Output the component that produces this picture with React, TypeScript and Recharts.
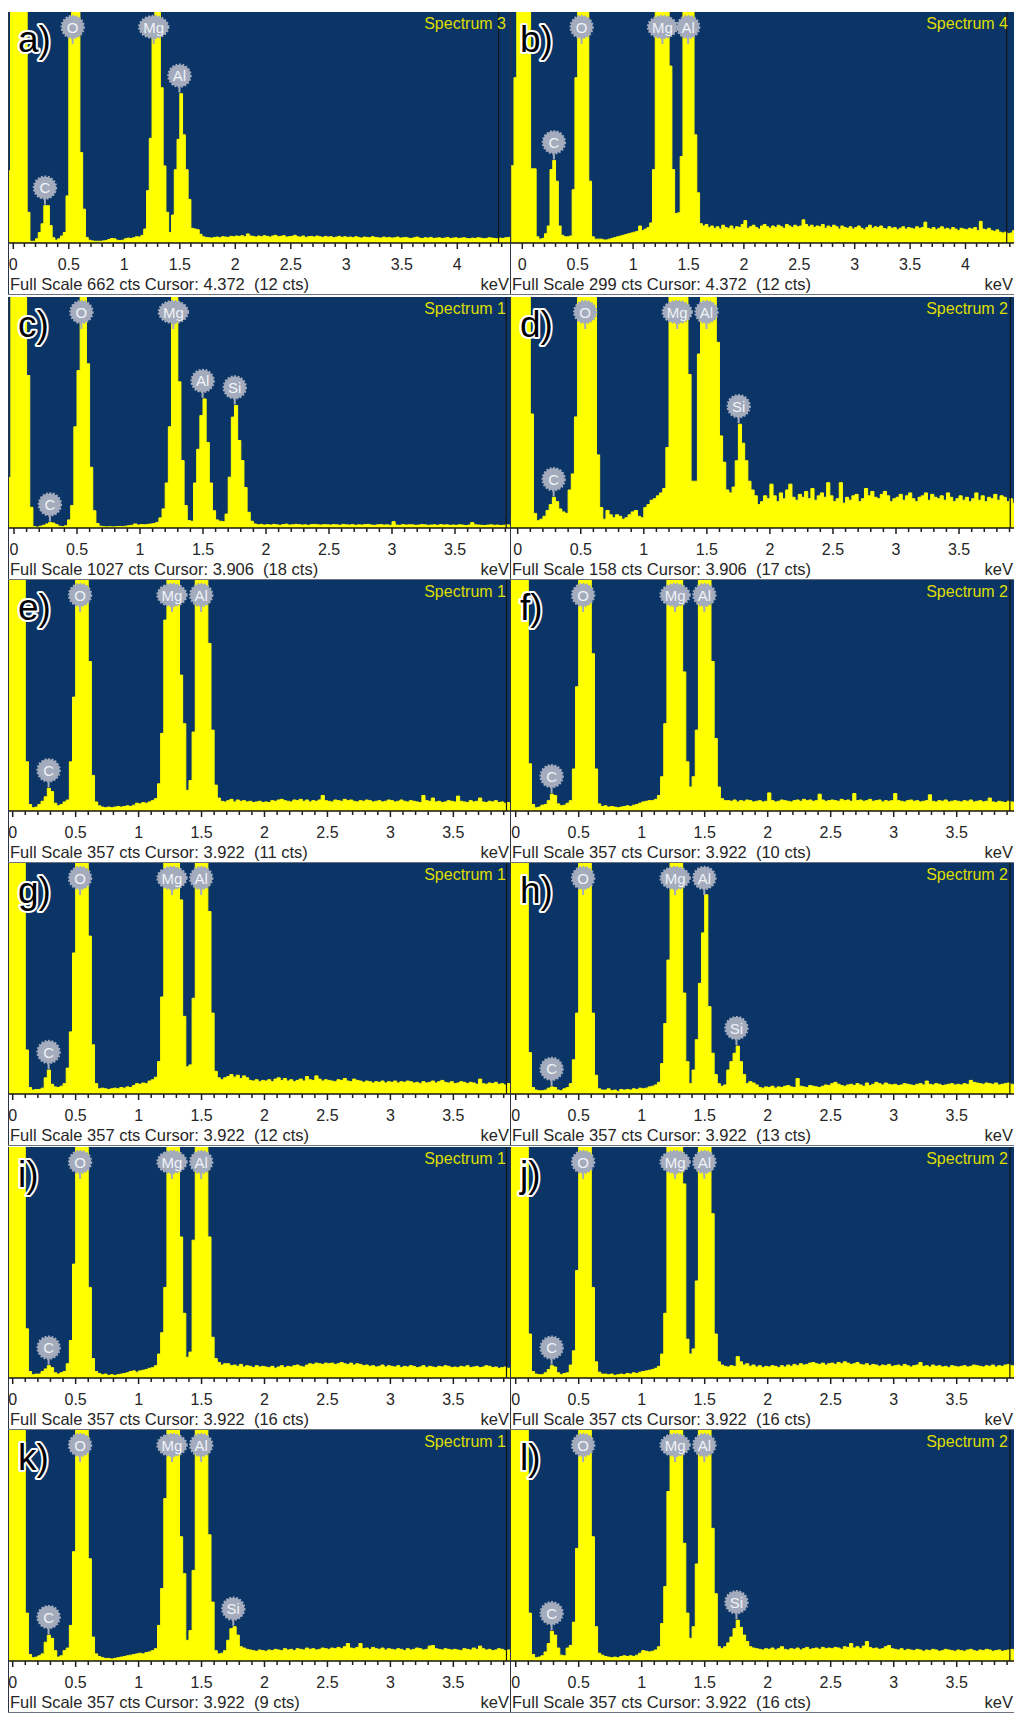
import React from "react";
import { AreaChart, Area, XAxis, YAxis, ReferenceLine, ReferenceDot } from "recharts";

const FONT = "'Liberation Sans', Arial, sans-serif";
const PLOT_BG = "#0a3566";
const TRACE = "#ffff00";
const BADGE = "#a3abbd";

const CHANNEL_KEV = 0.025;
const FIRST_CHANNEL_KEV = -0.1;

// counts per 25 eV channel starting at -0.1 keV, one 0.5 keV stretch per line
const countsA = [
  200, 200, 207, 2000, 2000, 2000, 2000, 2000, 2000, 88, 5, 5, 12, 30, 55, 107, 107, 50, 15, 8,
  12, 20, 30, 135, 600, 2000, 2000, 2000, 259, 97, 16, 8, 6, 5, 5, 5, 6, 7, 10, 13,
  12, 8, 7, 8, 12, 14, 13, 15, 18, 17, 22, 40, 150, 300, 600, 2000, 2000, 445, 221, 88,
  30, 80, 210, 297, 428, 310, 210, 125, 42, 40, 38, 25, 18, 16, 15, 14, 16, 17, 15, 18,
  17, 16, 19, 18, 20, 19, 21, 18, 26, 20, 19, 17, 20, 18, 21, 19, 17, 20, 22, 18,
  19, 21, 17, 18, 19, 22, 18, 17, 20, 16, 18, 19, 17, 20, 18, 16, 19, 17, 18, 15,
  17, 19, 16, 18, 16, 17, 15, 18, 16, 14, 17, 16, 15, 18, 16, 15, 14, 17, 15, 16,
  14, 15, 17, 14, 15, 16, 14, 13, 15, 17, 14, 13, 15, 14, 16, 13, 14, 15, 13, 14,
  16, 13, 14, 15, 13, 14, 15, 13, 12, 14, 13, 15, 14, 12, 13, 15, 14, 13, 12, 14,
  13, 15, 16, 17,
];
const countsB = [
  100, 214, 600, 600, 600, 600, 600, 96, 96, 8, 5, 6, 12, 22, 95, 107, 80, 22, 10, 8,
  8, 9, 69, 214, 600, 600, 600, 600, 80, 8, 5, 5, 5, 4, 4, 5, 6, 7, 8, 9,
  10, 11, 12, 13, 14, 15, 22, 16, 18, 20, 26, 95, 600, 600, 600, 600, 600, 229, 95, 38,
  39, 112, 600, 600, 600, 600, 140, 65, 25, 22, 24, 20, 22, 19, 21, 18, 23, 20, 19, 22,
  18, 21, 20, 24, 29, 19, 21, 23, 20, 18, 22, 24, 21, 19, 22, 20, 23, 21, 19, 24,
  22, 20, 23, 21, 22, 30, 24, 21, 23, 20, 22, 21, 24, 19, 22, 20, 23, 21, 18, 22,
  20, 19, 21, 18, 20, 22, 19, 17, 20, 23, 19, 21, 20, 22, 19, 18, 21, 19, 20, 17,
  19, 21, 18, 20, 19, 18, 21, 19, 20, 27, 19, 18, 20, 17, 19, 21, 18, 19, 17, 20,
  18, 16, 19, 18, 17, 19, 18, 20, 16, 28, 18, 17, 19, 16, 15, 17, 14, 13, 14, 12,
  13, 16, 18, 18,
];
const countsC = [
  225, 225, 225, 2000, 2000, 2000, 2000, 2000, 678, 92, 6, 4, 8, 12, 18, 25, 22, 15, 8, 6,
  10, 36, 100, 450, 700, 2000, 2000, 730, 270, 77, 20, 8, 6, 5, 6, 5, 6, 7, 6, 8,
  10, 12, 18, 13, 15, 14, 16, 18, 20, 25, 45, 85, 200, 450, 2000, 2000, 650, 300, 100, 33,
  30, 200, 350, 500, 574, 380, 200, 77, 36, 30, 28, 62, 226, 493, 545, 389, 300, 180, 70, 30,
  18, 14, 16, 13, 15, 13, 16, 14, 12, 15, 17, 13, 14, 16, 15, 13, 14, 12, 15, 16,
  14, 13, 15, 14, 13, 15, 14, 12, 16, 14, 13, 15, 12, 14, 13, 15, 16, 13, 12, 14,
  15, 13, 14, 12, 28, 13, 12, 15, 13, 14, 14, 12, 13, 15, 14, 12, 13, 14, 12, 15,
  13, 14, 12, 13, 12, 14, 13, 11, 13, 24, 14, 13, 12, 11, 13, 14, 12, 13, 11, 12,
  14, 13, 12, 13,
];
const countsD = [
  10, 10, 400, 400, 400, 400, 400, 400, 78, 10, 5, 6, 8, 12, 16, 21, 18, 13, 11, 10,
  26, 37, 76, 400, 400, 400, 400, 400, 400, 50, 14, 6, 12, 9, 7, 9, 8, 6, 7, 9,
  11, 12, 8, 7, 14, 16, 19, 20, 22, 24, 27, 55, 400, 400, 400, 400, 400, 400, 105, 32,
  32, 119, 400, 400, 400, 400, 400, 127, 63, 45, 26, 24, 28, 46, 71, 58, 46, 32, 26, 22,
  16, 18, 22, 20, 30, 22, 18, 24, 20, 26, 30, 21, 19, 23, 21, 25, 20, 27, 19, 22,
  24, 21, 31, 22, 18, 20, 31, 17, 21, 19, 22, 23, 18, 20, 27, 22, 25, 21, 20, 23,
  25, 22, 18, 20, 21, 23, 19, 22, 24, 20, 18, 21, 22, 24, 19, 23, 21, 20, 22, 19,
  24, 21, 18, 20, 22, 19, 21, 18, 20, 24, 19, 22, 18, 21, 20, 23, 19, 22, 21, 18,
  20, 17, 19, 21,
];
const countsE = [
  2000, 2000, 2000, 2000, 2000, 2000, 2000, 2000, 76, 10, 5, 6, 10, 15, 22, 35, 30, 12, 8, 10,
  14, 17, 76, 176, 2000, 2000, 2000, 2000, 231, 55, 14, 8, 6, 5, 6, 5, 6, 7, 6, 7,
  8, 7, 9, 12, 11, 13, 12, 14, 16, 19, 42, 120, 295, 2000, 2000, 2000, 2000, 210, 135, 32,
  47, 122, 2000, 2000, 2000, 2000, 259, 125, 40, 20, 15, 14, 16, 18, 14, 17, 15, 16, 14, 15,
  13, 14, 15, 13, 14, 13, 16, 15, 17, 18, 16, 15, 14, 17, 16, 18, 15, 17, 14, 16,
  15, 17, 24, 16, 15, 14, 17, 16, 15, 18, 16, 17, 15, 14, 16, 15, 17, 16, 14, 15,
  16, 14, 15, 17, 16, 14, 15, 17, 15, 14, 16, 15, 14, 13, 24, 16, 15, 20, 14, 15,
  13, 14, 16, 15, 14, 23, 15, 14, 13, 16, 14, 15, 20, 14, 13, 15, 14, 16, 13, 14,
  12, 13, 11, 12,
];
const countsF = [
  2000, 2000, 2000, 2000, 2000, 2000, 2000, 2000, 73, 10, 5, 6, 9, 10, 16, 26, 24, 11, 8, 9,
  12, 16, 65, 192, 2000, 2000, 2000, 2000, 243, 65, 11, 7, 8, 6, 7, 6, 5, 6, 7, 8,
  7, 9, 10, 12, 14, 15, 16, 16, 18, 24, 53, 135, 2000, 2000, 2000, 2000, 2000, 215, 76, 37,
  53, 125, 2000, 2000, 2000, 2000, 231, 112, 37, 19, 16, 16, 15, 17, 14, 16, 15, 17, 16, 14,
  15, 16, 14, 15, 28, 16, 14, 15, 17, 16, 15, 14, 16, 17, 15, 18, 16, 17, 15, 16,
  26, 17, 15, 16, 17, 16, 15, 18, 16, 17, 15, 27, 16, 17, 15, 16, 18, 15, 16, 17,
  14, 16, 15, 16, 27, 16, 15, 14, 16, 17, 15, 16, 14, 15, 16, 25, 15, 14, 16, 15,
  17, 14, 15, 16, 15, 14, 16, 15, 17, 14, 15, 16, 14, 15, 20, 14, 13, 15, 14, 13,
  15, 14, 13, 16,
];
const countsG = [
  2000, 2000, 2000, 2000, 2000, 2000, 2000, 2000, 68, 10, 6, 7, 7, 9, 25, 37, 15, 11, 10, 12,
  16, 40, 96, 218, 2000, 2000, 2000, 2000, 244, 76, 16, 8, 9, 8, 7, 8, 9, 8, 10, 9,
  11, 10, 13, 16, 15, 17, 16, 20, 22, 26, 50, 150, 2000, 2000, 2000, 2000, 2000, 300, 120, 42,
  45, 148, 2000, 2000, 2000, 2000, 282, 125, 35, 25, 22, 25, 27, 30, 26, 29, 24, 28, 25, 21,
  20, 22, 19, 21, 20, 22, 19, 23, 25, 21, 24, 20, 22, 19, 21, 23, 20, 27, 22, 21,
  28, 23, 20, 22, 21, 20, 19, 22, 21, 24, 20, 19, 23, 21, 20, 18, 20, 19, 17, 19,
  18, 20, 17, 19, 18, 20, 17, 19, 18, 20, 19, 17, 18, 16, 19, 17, 18, 20, 17, 19,
  21, 18, 17, 19, 16, 17, 19, 18, 16, 18, 17, 15, 23, 16, 15, 17, 16, 18, 15, 16,
  14, 16, 15, 17,
];
const countsH = [
  2000, 2000, 2000, 2000, 2000, 2000, 2000, 2000, 64, 10, 6, 5, 5, 6, 9, 11, 10, 6, 5, 8,
  10, 16, 53, 125, 2000, 2000, 2000, 2000, 125, 29, 8, 6, 6, 8, 5, 6, 4, 7, 6, 7,
  6, 8, 7, 9, 8, 9, 11, 12, 14, 18, 47, 109, 207, 2000, 2000, 2000, 2000, 156, 50, 16,
  37, 84, 171, 249, 308, 135, 63, 30, 16, 12, 14, 37, 50, 63, 74, 50, 30, 16, 19, 17,
  14, 10, 9, 11, 10, 12, 9, 11, 10, 12, 13, 11, 10, 24, 12, 11, 10, 13, 12, 11,
  10, 12, 14, 13, 16, 18, 15, 13, 12, 14, 15, 13, 16, 14, 12, 17, 13, 15, 18, 16,
  14, 17, 15, 14, 15, 13, 14, 16, 15, 14, 13, 15, 16, 14, 20, 15, 14, 16, 15, 13,
  14, 15, 16, 14, 15, 14, 16, 15, 21, 18, 17, 16, 15, 17, 16, 15, 17, 14, 15, 16,
  17, 15, 14, 16,
];
const countsI = [
  2000, 2000, 2000, 2000, 2000, 2000, 2000, 2000, 76, 10, 5, 6, 6, 10, 14, 19, 16, 8, 6, 8,
  10, 22, 58, 176, 2000, 2000, 2000, 2000, 140, 30, 10, 7, 5, 6, 4, 5, 4, 5, 6, 7,
  8, 10, 11, 9, 11, 12, 13, 15, 16, 19, 37, 70, 140, 2000, 2000, 2000, 2000, 218, 100, 32,
  40, 213, 2000, 2000, 2000, 2000, 218, 63, 30, 24, 20, 22, 22, 19, 20, 18, 21, 17, 19, 18,
  16, 19, 17, 18, 17, 16, 18, 15, 17, 19, 16, 18, 17, 19, 20, 18, 17, 20, 22, 21,
  23, 22, 21, 23, 22, 23, 21, 22, 24, 22, 21, 23, 20, 22, 21, 19, 20, 18, 19, 17,
  18, 20, 17, 19, 18, 17, 19, 16, 18, 17, 19, 18, 16, 17, 19, 16, 18, 17, 16, 18,
  17, 19, 18, 16, 17, 16, 18, 17, 19, 16, 17, 18, 16, 17, 19, 18, 16, 17, 15, 16,
  17, 15, 16, 14,
];
const countsJ = [
  2000, 2000, 2000, 2000, 2000, 2000, 2000, 2000, 68, 10, 6, 5, 5, 8, 13, 19, 17, 8, 5, 7,
  8, 20, 42, 166, 2000, 2000, 2000, 2000, 140, 25, 9, 6, 6, 5, 6, 4, 5, 6, 5, 7,
  6, 8, 7, 9, 10, 11, 12, 13, 15, 18, 37, 100, 2000, 2000, 2000, 2000, 2000, 300, 60, 37,
  45, 150, 2000, 2000, 2000, 2000, 254, 68, 25, 20, 18, 17, 19, 18, 33, 25, 20, 22, 18, 20,
  17, 19, 16, 18, 17, 19, 18, 16, 19, 17, 20, 18, 21, 19, 22, 20, 21, 23, 24, 22,
  21, 23, 20, 22, 23, 21, 24, 22, 25, 23, 21, 22, 24, 21, 20, 22, 19, 21, 20, 18,
  20, 19, 21, 18, 19, 20, 18, 21, 19, 17, 19, 20, 24, 18, 19, 17, 20, 18, 19, 17,
  18, 16, 19, 18, 17, 18, 19, 17, 18, 20, 19, 18, 17, 19, 18, 20, 17, 19, 18, 20,
  21, 19, 18, 20,
];
const countsK = [
  2000, 2000, 2000, 2000, 2000, 2000, 2000, 2000, 74, 10, 5, 6, 8, 11, 29, 40, 35, 16, 6, 8,
  16, 20, 55, 169, 2000, 2000, 2000, 2000, 158, 37, 11, 7, 5, 4, 4, 3, 4, 5, 6, 7,
  8, 9, 10, 11, 12, 11, 13, 14, 16, 19, 55, 112, 251, 2000, 2000, 2000, 2000, 192, 135, 32,
  47, 140, 2000, 2000, 2000, 2000, 195, 91, 16, 11, 12, 16, 32, 50, 53, 40, 22, 20, 18, 17,
  16, 15, 17, 16, 15, 17, 16, 18, 17, 16, 19, 17, 18, 16, 19, 18, 17, 20, 18, 19,
  17, 18, 20, 19, 18, 20, 19, 21, 19, 22, 27, 20, 19, 21, 27, 19, 20, 18, 21, 19,
  18, 20, 17, 19, 18, 17, 19, 18, 16, 19, 17, 18, 20, 19, 17, 18, 23, 24, 19, 18,
  17, 19, 18, 17, 18, 17, 16, 19, 18, 17, 20, 18, 23, 19, 17, 18, 16, 17, 19, 18,
  16, 17, 18, 20,
];
const countsL = [
  2000, 2000, 2000, 2000, 2000, 2000, 2000, 2000, 74, 10, 5, 6, 8, 14, 27, 46, 40, 20, 9, 8,
  20, 24, 60, 174, 2000, 2000, 2000, 2000, 192, 53, 12, 9, 7, 6, 5, 6, 5, 7, 8, 7,
  8, 7, 9, 12, 16, 15, 14, 15, 17, 22, 58, 115, 262, 2000, 2000, 2000, 2000, 182, 74, 35,
  53, 150, 2000, 2000, 2000, 2000, 205, 104, 22, 19, 22, 28, 37, 50, 63, 52, 40, 30, 22, 20,
  19, 18, 17, 19, 18, 20, 17, 19, 22, 18, 17, 19, 18, 20, 17, 19, 21, 18, 19, 20,
  18, 21, 19, 20, 19, 21, 20, 18, 22, 21, 27, 20, 22, 19, 23, 30, 21, 19, 20, 18,
  19, 22, 24, 19, 18, 17, 19, 16, 18, 17, 16, 18, 17, 15, 17, 16, 18, 17, 15, 16,
  18, 17, 16, 15, 17, 16, 15, 17, 18, 16, 15, 17, 16, 18, 17, 15, 16, 17, 15, 16,
  17, 18, 16, 17,
];

const spectra = [countsA, countsB, countsC, countsD, countsE, countsF, countsG, countsH, countsI, countsJ, countsK, countsL];
const panelLetters = ["a)", "b)", "c)", "d)", "e)", "f)", "g)", "h)", "i)", "j)", "k)", "l)"];
const spectrumNames = [
  "Spectrum 3", "Spectrum 4", "Spectrum 1", "Spectrum 2", "Spectrum 1", "Spectrum 2",
  "Spectrum 1", "Spectrum 2", "Spectrum 1", "Spectrum 2", "Spectrum 1", "Spectrum 2",
];
const fullScaleCts = [662, 299, 1027, 158, 357, 357, 357, 357, 357, 357, 357, 357];
const cursorKev = [4.372, 4.372, 3.906, 3.906, 3.922, 3.922, 3.922, 3.922, 3.922, 3.922, 3.922, 3.922];
const cursorCts = [12, 12, 18, 17, 11, 10, 12, 13, 16, 16, 9, 16];
const markedElements = [
  ["C", "O", "Mg", "Al"], ["C", "O", "Mg", "Al"],
  ["C", "O", "Mg", "Al", "Si"], ["C", "O", "Mg", "Al", "Si"],
  ["C", "O", "Mg", "Al"], ["C", "O", "Mg", "Al"],
  ["C", "O", "Mg", "Al"], ["C", "O", "Mg", "Al", "Si"],
  ["C", "O", "Mg", "Al"], ["C", "O", "Mg", "Al"],
  ["C", "O", "Mg", "Al", "Si"], ["C", "O", "Mg", "Al", "Si"],
];
const lineKev: Record<string, number> = { C: 0.285, O: 0.535, Mg: 1.265, Al: 1.497, Si: 1.752 };

// panel geometry
const colLeft = [8, 510];
const colWidth = [502, 504];
const rowTop = [12, 297, 580, 863, 1147, 1430];
const PANEL_H = 283;
const PLOT_H = 231;
const AXIS_H = 30;
// where 0 keV sits inside each panel and the keV scale of each panel
const zeroOffsetPx = [5.3, 12.3, 6, 7.7, 4.7, 5.7, 4.7, 5.7, 4.7, 5.7, 4.7, 5.7];
const pxPerKev = [111, 110.8, 126, 126.1, 125.9, 126, 125.9, 126, 125.9, 126, 125.9, 126];

function peakNear(counts: number[], kev: number) {
  let best = 0;
  counts.forEach((c, i) => {
    const lo = FIRST_CHANNEL_KEV + i * CHANNEL_KEV;
    if (lo + CHANNEL_KEV > kev - 0.03 && lo < kev + 0.03) best = Math.max(best, c);
  });
  return best;
}

function KevTick(props: any) {
  const { x, y, payload } = props;
  const v: number = payload.value;
  const major = Math.abs(v * 2 - Math.round(v * 2)) < 1e-6;
  return (
    <g>
      <line x1={x} x2={x} y1={y} y2={y + (major ? 6 : 4)} stroke="#1e1e1e" strokeWidth={1.5} />
      {major ? (
        <text x={x} y={y + 27} textAnchor="middle" fontSize={16} fill="#262626" fontFamily={FONT}>
          {String(v)}
        </text>
      ) : null}
    </g>
  );
}

function ElementBadge({ cx, cy, label }: { cx: number; cy: number; label: string }) {
  const by = Math.max(15, cy - 18);
  const rx = label === "Mg" ? 14.5 : 11;
  return (
    <g>
      <line x1={cx} x2={cx} y1={by + 10} y2={by + 17} stroke={BADGE} strokeWidth={2} />
      <ellipse cx={cx} cy={by} rx={rx} ry={11} fill={BADGE} stroke={BADGE} strokeWidth={2.4} strokeDasharray="1.8 1.6" />
      <text x={cx} y={by + 5.5} textAnchor="middle" fontSize={15} fill="#f1f3f7" fontFamily={FONT}>
        {label}
      </text>
    </g>
  );
}

function SpectrumPanel({ index }: { index: number }) {
  const col = index % 2;
  const row = Math.floor(index / 2);
  const width = colWidth[col];
  const counts = spectra[index];
  const data = counts.map((c, i) => ({ e: +(FIRST_CHANNEL_KEV + i * CHANNEL_KEV).toFixed(3), c }));
  data.push({ e: +(FIRST_CHANNEL_KEV + counts.length * CHANNEL_KEV).toFixed(3), c: counts[counts.length - 1] });

  const xMin = -zeroOffsetPx[index] / pxPerKev[index];
  const xMax = xMin + width / pxPerKev[index];
  const ticks: number[] = [];
  for (let t = 0; t <= Math.floor(xMax * 10 + 1e-6); t++) ticks.push(t / 10);

  const footer = `Full Scale ${fullScaleCts[index]} cts Cursor: ${cursorKev[index].toFixed(3)}  (${cursorCts[index]} cts)`;

  return (
    <div
      style={{
        position: "absolute",
        left: colLeft[col],
        top: rowTop[row],
        width,
        height: PANEL_H,
        background: "#fff",
        overflow: "hidden",
      }}
    >
      <div style={{ position: "absolute", left: 0, top: 0, width, height: PLOT_H, background: PLOT_BG }} />
      <div style={{ position: "absolute", left: 0, top: 0 }}>
        <AreaChart width={width} height={PLOT_H + AXIS_H} data={data} margin={{ top: 0, right: 0, bottom: 0, left: 0 }}>
          <XAxis
            type="number"
            dataKey="e"
            domain={[xMin, xMax]}
            allowDataOverflow
            ticks={ticks}
            interval={0}
            tickSize={0}
            tickMargin={0}
            tickLine={false}
            tick={(p: any) => <KevTick {...p} />}
            axisLine={{ stroke: "#151515", strokeWidth: 1.5 }}
            height={AXIS_H}
          />
          <YAxis hide domain={[0, fullScaleCts[index]]} allowDataOverflow />
          <Area
            type="stepAfter"
            dataKey="c"
            stroke={TRACE}
            strokeWidth={1}
            fill={TRACE}
            fillOpacity={1}
            isAnimationActive={false}
          />
          <ReferenceLine x={cursorKev[index]} stroke="#151515" strokeWidth={1.2} />
          {markedElements[index].map((el) => (
            <ReferenceDot
              key={el}
              x={lineKev[el]}
              y={peakNear(counts, lineKev[el])}
              ifOverflow="visible"
              shape={(p: any) => <ElementBadge cx={p.cx} cy={p.cy} label={el} />}
            />
          ))}
        </AreaChart>
      </div>
      <svg
        width={width}
        height={PANEL_H}
        style={{ position: "absolute", left: 0, top: 0, pointerEvents: "none" }}
      >
        <text
          x={10}
          y={40}
          fontSize={37}
          fontFamily={FONT}
          fill="#000"
          stroke="#fff"
          strokeWidth={4}
          strokeLinejoin="round"
          style={{ paintOrder: "stroke fill" }}
        >
          {panelLetters[index]}
        </text>
        <text x={width - (col === 0 ? 4 : 6)} y={17} textAnchor="end" fontSize={16} fontFamily={FONT} fill="#dede00">
          {spectrumNames[index]}
        </text>
        <text x={2} y={277.5} fontSize={16.5} fontFamily={FONT} fill="#262626" style={{ whiteSpace: "pre" }}>
          {footer}
        </text>
        <text x={width - 1} y={277.5} textAnchor="end" fontSize={16.5} fontFamily={FONT} fill="#262626">
          keV
        </text>
        <line x1={0.5} x2={0.5} y1={0} y2={PANEL_H} stroke="#2a3444" strokeWidth={1} />
        <line x1={0} x2={width} y1={PANEL_H - 0.5} y2={PANEL_H - 0.5} stroke="#6b7380" strokeWidth={1} />
      </svg>
    </div>
  );
}

export default function App() {
  return (
    <div
      style={{
        position: "absolute",
        left: 0,
        top: 0,
        width: 1014,
        height: 1713,
        background: "#fff",
        overflow: "hidden",
      }}
    >
      {spectra.map((_, i) => (
        <SpectrumPanel key={i} index={i} />
      ))}
    </div>
  );
}
